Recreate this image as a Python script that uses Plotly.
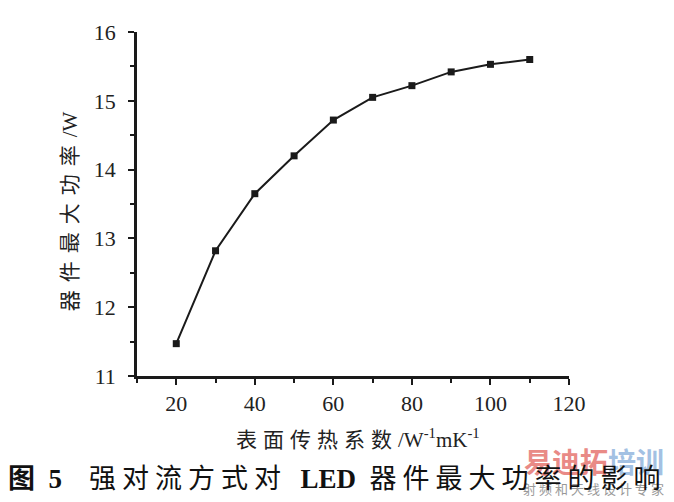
import plotly.graph_objects as go

# 表面传热系数 (W^-1 mK^-1) 与器件最大功率 (W)
coef_x = [20, 30, 40, 50, 60, 70, 80, 90, 100, 110]
power_y = [11.47, 12.82, 13.65, 14.20, 14.72, 15.05, 15.22, 15.42, 15.53, 15.60]

x_ticks = [20, 40, 60, 80, 100, 120]
y_ticks = [11, 12, 13, 14, 15, 16]

serif = "Liberation Serif, Noto Sans CJK SC, serif"
EN = "\u2002"   # en space
IDEO = "\u3000"  # 全角空格


def spaced(txt, px):
    # 中文字间距
    return f"<span style='letter-spacing:{px}px'>{txt}</span>"


fig = go.Figure()
fig.add_trace(go.Scatter(
    x=coef_x, y=power_y,
    mode="lines+markers",
    line=dict(color="#1a1a1a", width=2),
    marker=dict(symbol="square", size=7, color="#1a1a1a"),
    showlegend=False,
))

axis_common = dict(
    showline=True, linecolor="#1a1a1a", linewidth=2.5,
    ticks="outside", ticklen=6, tickwidth=2, tickcolor="#1a1a1a",
    showgrid=False, zeroline=False,
    tickfont=dict(family=serif, size=22, color="#222"),
    minor=dict(ticks="outside", ticklen=4, tickwidth=1.5, tickcolor="#1a1a1a"),
)

fig.update_xaxes(
    range=[10, 120], tickvals=x_ticks, ticktext=[str(v) for v in x_ticks],
    minor_dtick=10, **axis_common,
)
fig.update_yaxes(
    range=[11, 16], tickvals=y_ticks, ticktext=[str(v) for v in y_ticks],
    minor_dtick=0.5, ticklabelstandoff=8, **axis_common,
)

# 水印 (放在最下层)
fig.add_annotation(
    text="<span style='color:#e98a86'>易迪拓</span><span style='color:#a3c1e3'>培训</span>",
    xref="paper", yref="paper", x=1.058, y=-0.246, showarrow=False,
    xanchor="center", yanchor="middle",
    font=dict(family="Noto Sans CJK SC", size=28, weight="bold"),
)
fig.add_annotation(
    text=spaced("射频和天线设计专家", 3),
    xref="paper", yref="paper", x=1.06, y=-0.326,
    showarrow=False, xanchor="center", yanchor="middle",
    font=dict(family="Noto Sans CJK SC", size=13, color="#999"),
)

fig.add_annotation(
    text=spaced("器件最大功率", 8) + "/W",
    xref="paper", yref="paper", x=-0.155, y=0.479,
    textangle=-90, showarrow=False, xanchor="center", yanchor="middle",
    font=dict(family=serif, size=21, color="#222"),
)
fig.add_annotation(
    text=spaced("表面传热系数", 6) + "/W<sup>-1</sup>mK<sup>-1</sup>",
    xref="paper", yref="paper",
    x=0.512, y=-0.181, showarrow=False, xanchor="center", yanchor="middle",
    font=dict(family=serif, size=21, color="#222"),
)
fig.add_annotation(
    text="<b>图" + EN + "5</b>" + IDEO + spaced("强对流方式对", 6) + EN
         + "<b>LED</b>" + EN + spaced("器件最大功率的影响", 6),
    xref="paper", yref="paper",
    x=0.465, y=-0.30, showarrow=False, xanchor="center", yanchor="middle",
    font=dict(family=serif, size=27, color="#111"),
)

fig.update_layout(
    width=666, height=494,
    margin=dict(l=129, r=105, t=15, b=126),
    paper_bgcolor="white", plot_bgcolor="white",
)

fig.write_html("out.html")
